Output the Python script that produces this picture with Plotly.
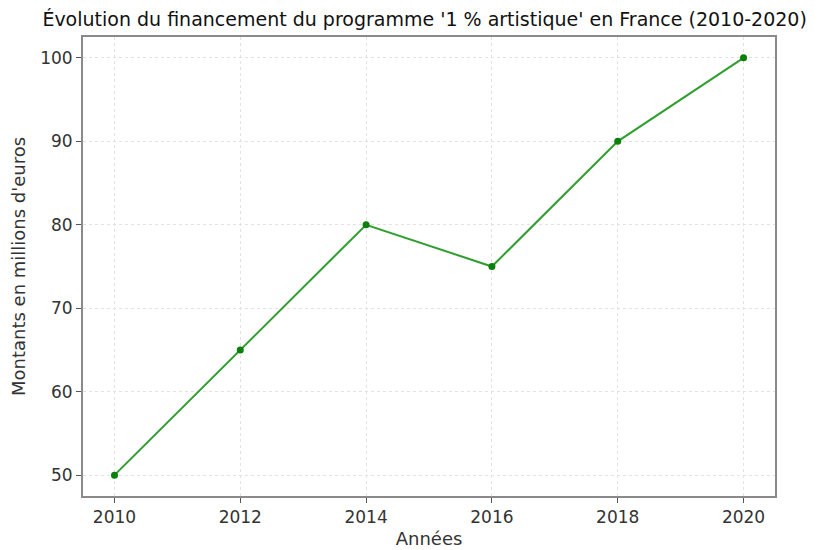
import plotly.graph_objects as go

# Données
annees = [2010, 2012, 2014, 2016, 2018, 2020]
montants = [50, 65, 80, 75, 90, 100]

fig = go.Figure()

fig.add_trace(go.Scatter(
    x=annees,
    y=montants,
    mode='lines+markers',
    line=dict(color='#2e9e2e', width=2),
    marker=dict(color='#0a7f0a', size=7),
    showlegend=False
))

axis_common = dict(
    showline=True, linecolor='#8a8a8a', linewidth=2, mirror=True,
    ticks='outside', tickcolor='#555555', ticklen=5, tickwidth=1,
    showgrid=True, gridcolor='#e2e2e2', griddash='dot', gridwidth=1,
    zeroline=False, automargin=False,
    tickfont=dict(size=17, color='#333333'),
)

fig.update_layout(
    width=825, height=550,
    paper_bgcolor='white', plot_bgcolor='white',
    font=dict(family='DejaVu Sans, sans-serif', color='#333333'),
    title=dict(text="Évolution du financement du programme '1 % artistique' en France (2010-2020)",
               x=0.505, xanchor='center', y=0.98, yanchor='middle',
               font=dict(size=19, color='#111111')),
    margin=dict(l=75, r=58, t=29, b=62, autoexpand=False),
    xaxis=dict(axis_common, range=[2009.5, 2020.5], tickvals=annees,
               title=dict(text='Années', font=dict(size=18), standoff=6)),
    yaxis=dict(axis_common, range=[47.5, 102.5], tickvals=[50, 60, 70, 80, 90, 100],
               title=dict(text="Montants en millions d'euros", font=dict(size=18), standoff=10)),
)

fig.write_html("out.html")
